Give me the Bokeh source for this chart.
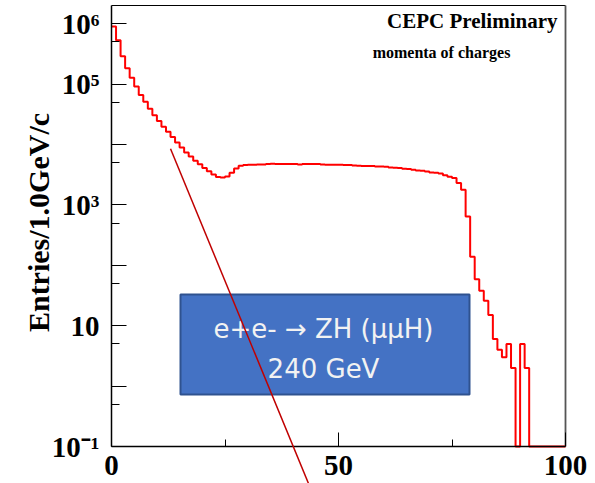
import math
from bokeh.plotting import figure
from bokeh.models import FixedTicker, BoxAnnotation, Label, Arrow
from bokeh.embed import file_html
from bokeh.resources import INLINE

# ---- data ----
bin_width = 1.0
counts = [900000, 530000, 290000, 183000, 127000, 91000, 66000, 51000, 39000, 30500,
          24500, 19700, 16300, 13300, 10800, 8950, 7400, 6350, 5380, 4700,
          4100, 3600, 3200, 2900, 2840, 2950, 3400, 4000, 4450, 4570,
          4620, 4620, 4680, 4680, 4740, 4800, 4740, 4740, 4740, 4740,
          4740, 4680, 4740, 4740, 4740, 4740, 4680, 4620, 4620, 4620,
          4620, 4570, 4570, 4500, 4450, 4390, 4390, 4390, 4330, 4330,
          4280, 4170, 4120, 4070, 3960, 3920, 3820, 3720, 3670, 3580,
          3440, 3400, 3310, 3110, 2920, 2800, 2300, 1780, 641, 139,
          59, 38, 26, 15, 6, 4, 3, 5, 2, 0,
          5, 2, 0, 0, 0, 0, 0, 0, 0, 0]
x_ticks = [0, 50, 100]
x_minor = [25, 75]
y_ticks = [1e-1, 1, 10, 100, 1e3, 1e4, 1e5, 1e6]
y_minor = [0.5, 5, 50, 500, 5e3, 5e4, 5e5]
y_labels = {1e-1: "10\u207b\u00b9", 1: "", 10: "10", 100: "", 1e3: "10\u00b3",
            1e4: "", 1e5: "10\u2075", 1e6: "10\u2076"}
fit_x = [13.0, 43.4]
fit_y = [8500, 0.0243]
y_title = "Entries/1.0GeV/c"
title_text = "CEPC Preliminary"
sub_text = "momenta  of charges"
box_lines = ["e+e- \u2192 ZH (\u03bc\u03bcH)", "240 GeV"]

XMIN, XMAX = 0, 100
YMIN, YMAX = 0.1, 2.0e6

# ---- layout: axes box inside the 595x483 canvas (pixels) ----
W, H = 595, 483
PX_L, PX_R, PX_T, PX_B = 111, 565, 5, 446
ux = (XMAX - XMIN) / (PX_R - PX_L)
x_lo = XMIN - PX_L * ux
x_hi = XMAX + (W - PX_R) * ux
uy = (math.log10(YMAX) - math.log10(YMIN)) / (PX_B - PX_T)
y_lo = 10 ** (math.log10(YMIN) - (H - PX_B) * uy)
y_hi = 10 ** (math.log10(YMAX) + PX_T * uy)

def cx(px):
    return XMIN + (px - PX_L) * ux

def cy(py):
    return 10 ** (math.log10(YMIN) + (PX_B - py) * uy)

# histogram outline (empty bins drawn on the axis, as ROOT does)
xs, ys = [], []
for i, c in enumerate(counts):
    v = c if c > 0 else YMIN
    xs += [i * bin_width, (i + 1) * bin_width]
    ys += [v, v]

p = figure(width=W, height=H, x_range=(x_lo, x_hi), y_range=(y_lo, y_hi),
           y_axis_type="log", output_backend="svg", toolbar_location=None,
           min_border=0)
p.grid.visible = False
p.outline_line_color = None
p.background_fill_color = "white"
p.border_fill_color = "white"

SERIF = "Liberation Serif"
for ax in (p.xaxis[0], p.yaxis[0]):
    ax.axis_line_color = "black"
    ax.axis_line_width = 1.5
    ax.major_tick_line_color = "black"
    ax.minor_tick_line_color = "black"
    ax.major_tick_out = 0
    ax.minor_tick_out = 0
    ax.major_label_text_font = SERIF
    ax.major_label_text_font_style = "bold"
    ax.major_label_text_font_size = "29px"
    ax.major_label_text_color = "black"

xa = p.xaxis[0]
xa.ticker = FixedTicker(ticks=x_ticks, minor_ticks=x_minor)
xa.fixed_location = YMIN
xa.bounds = (XMIN, XMAX)
xa.major_tick_in = 14
xa.minor_tick_in = 7
xa.major_label_standoff = 9

ya = p.yaxis[0]
ya.ticker = FixedTicker(ticks=y_ticks, minor_ticks=y_minor)
ya.fixed_location = XMIN
ya.bounds = (YMIN, YMAX)
ya.major_label_overrides = y_labels
ya.major_tick_in = 15
ya.minor_tick_in = 8
ya.major_label_standoff = 12

# top and right frame borders
p.line([XMIN, XMAX], [YMAX, YMAX], line_color="black", line_width=1.2)
p.line([XMAX, XMAX], [YMIN, YMAX], line_color="#555555", line_width=1.8)

p.line(xs, ys, line_color="#ff0000", line_width=2)

box = BoxAnnotation(left=cx(180), right=cx(469), bottom=cy(394), top=cy(294),
                    fill_color="#4472C4", fill_alpha=1.0,
                    line_color="#2F528F", line_width=2, line_alpha=1.0)
p.add_layout(box)
p.add_layout(Label(x=cx(323), y=cy(328), text=box_lines[0], text_align="center",
                   text_baseline="middle", text_font="DejaVu Sans",
                   text_font_size="26px", text_color="#f2f2f2"))
p.add_layout(Label(x=cx(323), y=cy(368), text=box_lines[1], text_align="center",
                   text_baseline="middle", text_font="DejaVu Sans",
                   text_font_size="26px", text_color="#f2f2f2"))

p.add_layout(Arrow(end=None, x_start=fit_x[0], y_start=fit_y[0],
                   x_end=fit_x[1], y_end=fit_y[1],
                   line_color="#C00000", line_width=1.5))

p.add_layout(Label(x=cx(38), y=cy(222), text=y_title, angle=math.pi / 2,
                   text_align="center", text_baseline="middle", text_font=SERIF,
                   text_font_style="bold", text_font_size="30px", text_color="black"))
p.add_layout(Label(x=cx(557), y=cy(20), text=title_text, text_align="right",
                   text_baseline="middle", text_font=SERIF, text_font_style="bold",
                   text_font_size="21px", text_color="black"))
p.add_layout(Label(x=cx(443), y=cy(52), text=sub_text, text_align="center",
                   text_baseline="middle", text_font=SERIF, text_font_style="bold",
                   text_font_size="16px", text_color="black"))

open("out.html", "w").write(file_html(p, INLINE))
